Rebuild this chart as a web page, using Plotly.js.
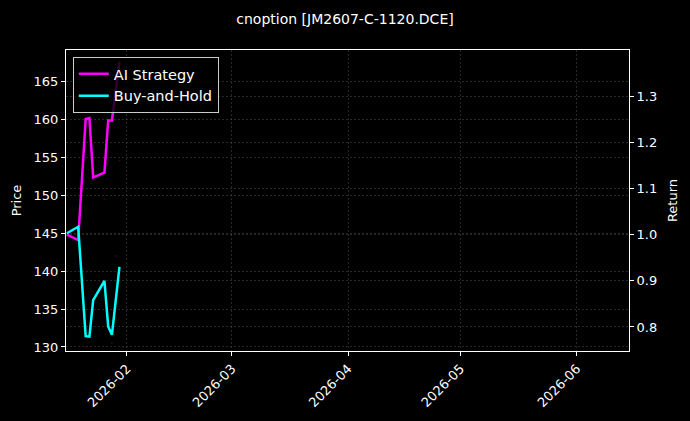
<!DOCTYPE html>
<html>
<head>
<meta charset="utf-8">
<script src="https://cdn.plot.ly/plotly-3.0.1.min.js"></script>
<style>html,body{margin:0;padding:0;background:#000;}#chart{width:690px;height:421px;}</style>
</head>
<body>
<div id="chart"></div>
<script>
// ---- data ----
const dates = ['2026-01-16','2026-01-19','2026-01-21','2026-01-22','2026-01-23','2026-01-26','2026-01-27','2026-01-28','2026-01-30'];
const aiStrategy = [1.000, 0.988, 1.250, 1.252, 1.124, 1.134, 1.247, 1.247, 1.374];
const buyHold    = [1.003, 1.017, 0.780, 0.779, 0.858, 0.900, 0.801, 0.783, 0.930];
const priceDates = ['2026-01-21','2026-01-26','2026-01-28','2026-01-29','2026-01-30'];
const priceVals  = [130.0, 149.5, 130.5, 142.0, 154.6];
const priceTicks = [130,135,140,145,150,155,160,165];
const returnTicks = [0.8,0.9,1.0,1.1,1.2,1.3];
const titleText = 'cnoption [JM2607-C-1120.DCE]';

const font = {family:'DejaVu Sans, sans-serif', color:'#ffffff', size:13};
const grid = 'rgba(128,128,128,0.5)';

const traces = [
  {x: priceDates, y: priceVals, type:'scatter', mode:'markers', yaxis:'y',
   marker:{color:'#4a0000', size:2}, showlegend:false, hoverinfo:'skip'},
  {x: dates, y: aiStrategy, type:'scatter', mode:'lines', name:'AI Strategy', yaxis:'y2',
   line:{color:'#ff00ff', width:2.5}},
  {x: dates, y: buyHold, type:'scatter', mode:'lines', name:'Buy-and-Hold', yaxis:'y2',
   line:{color:'#00ffff', width:2.5}}
];

const layout = {
  width:690, height:421,
  paper_bgcolor:'#000000', plot_bgcolor:'#000000',
  font: font,
  margin:{l:66, r:61, t:50, b:70},
  title:{text:titleText, x:0.5, xref:'container', xanchor:'center',
         y:1-19/421, yref:'container', yanchor:'middle', font:{family:font.family, size:14, color:'#ffffff'}},
  showlegend:true,
  legend:{x:0.012, y:0.977, xanchor:'left', yanchor:'top', bgcolor:'rgba(0,0,0,0.8)',
          bordercolor:'#cccccc', borderwidth:1, font:{family:font.family, size:14.5, color:'#ffffff'},
          tracegroupgap:0},
  xaxis:{type:'date', range:['2026-01-15 18:00','2026-06-14 22:00'],
         tickvals:['2026-02-01','2026-03-01','2026-04-01','2026-05-01','2026-06-01'],
         ticktext:['2026-02','2026-03','2026-04','2026-05','2026-06'],
         tickangle:-45, ticks:'outside', ticklen:4, tickcolor:'#ffffff',
         showline:true, linecolor:'#ffffff', linewidth:1, mirror:true,
         showgrid:true, gridcolor:grid, griddash:'2px,2px', gridwidth:0.6, zeroline:false,
         tickfont:{family:font.family, size:13, color:'#ffffff'}},
  yaxis:{range:[129.47,169.2], tickvals:priceTicks, ticks:'outside', ticklen:4, tickcolor:'#ffffff',
         showline:true, linecolor:'#ffffff', linewidth:1, mirror:true,
         showgrid:true, gridcolor:grid, griddash:'2px,2px', gridwidth:0.6, zeroline:false,
         title:{text:'Price', standoff:9, font:{family:font.family, size:13, color:'#ffffff'}},
         tickfont:{family:font.family, size:13, color:'#ffffff'}},
  yaxis2:{overlaying:'y', side:'right', range:[0.748,1.3996], tickvals:returnTicks,
          tickformat:'.1f', ticks:'outside', ticklen:4, tickcolor:'#ffffff',
          showline:true, linecolor:'#ffffff', linewidth:1,
          showgrid:true, gridcolor:grid, griddash:'2px,2px', gridwidth:0.6, zeroline:false,
          title:{text:'Return', standoff:11, font:{family:font.family, size:13, color:'#ffffff'}},
          tickfont:{family:font.family, size:13, color:'#ffffff'}}
};

Plotly.newPlot('chart', traces, layout, {displayModeBar:false, staticPlot:true});
</script>
</body>
</html>
